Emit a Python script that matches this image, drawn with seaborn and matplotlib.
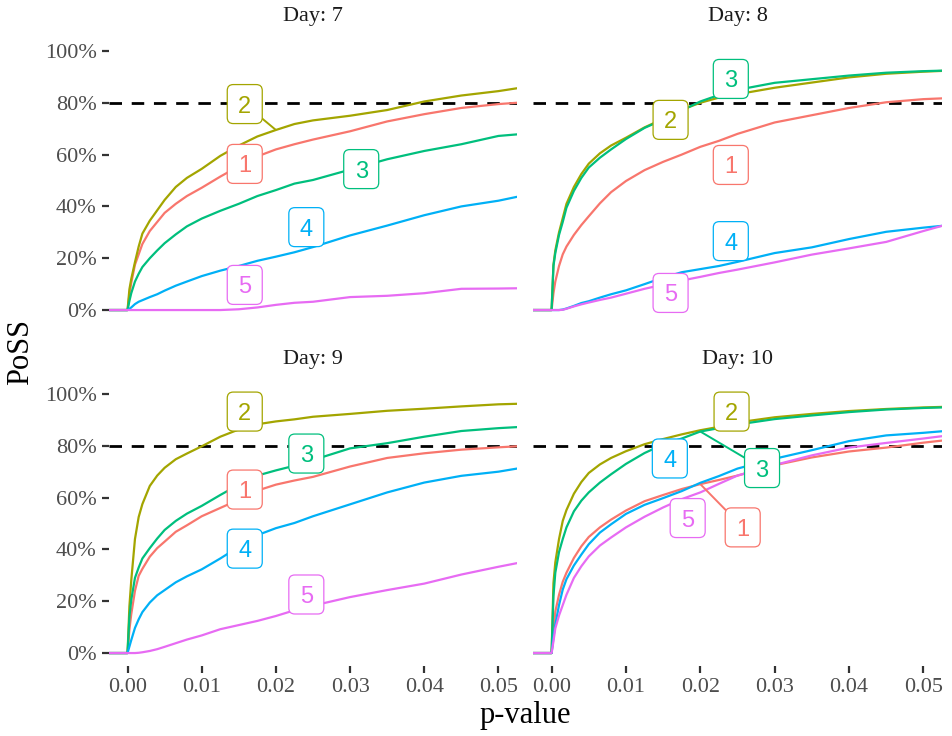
import numpy as np
import pandas as pd
import matplotlib
matplotlib.use("Agg")
import matplotlib.pyplot as plt
import seaborn as sns
from matplotlib.patches import FancyBboxPatch
from matplotlib.transforms import ScaledTranslation

# ---- data -------------------------------------------------------------
days = [7, 8, 9, 10]
groups = ["1", "2", "3", "4", "5"]
palette = {"1": "#F8766D", "2": "#A3A500", "3": "#00BF7D", "4": "#00B0F6", "5": "#E76BF3"}

p_grid = [-0.0025, 0.0, 0.00025, 0.0005, 0.001, 0.0015, 0.002, 0.003, 0.004, 0.005,
          0.0065, 0.008, 0.01, 0.0125, 0.015, 0.0175, 0.02, 0.0225, 0.025, 0.03,
          0.035, 0.04, 0.045, 0.05, 0.0525]

# PoSS (%) for each group along p_grid
day7_g1 = [0, 0, 6, 10.5, 17.5, 21.5, 25.5, 30.5, 34, 37.5, 41, 44, 47.2, 51.5, 55.5, 59.3, 62, 64, 65.8, 69, 72.8, 75.6, 78, 79.5, 80]
day7_g2 = [0, 0, 8, 12, 18.5, 24.5, 29.5, 34.5, 38.5, 42.5, 47.5, 51, 54.5, 59.5, 63.5, 67, 69.5, 71.8, 73.2, 75, 77.2, 80.5, 82.8, 84.5, 85.6]
day7_g3 = [0, 0, 3.5, 6.5, 11, 14, 16.6, 20, 23, 25.8, 29.2, 32.3, 35.3, 38.3, 41, 44, 46.3, 48.8, 50.2, 54.2, 58.2, 61.4, 64, 67.2, 67.8]
day7_g4 = [0, 0, 0.5, 1, 2.3, 3.2, 3.8, 5, 6.1, 7.5, 9.4, 11, 13.1, 15.2, 17, 19, 20.6, 22.3, 24.3, 28.8, 32.6, 36.6, 40, 42.2, 43.7]
day7_g5 = [0, 0, 0, 0, 0, 0, 0, 0, 0, 0, 0, 0, 0, 0, 0.3, 1, 2, 2.8, 3.2, 5, 5.5, 6.5, 8.2, 8.3, 8.4]

day8_g1 = [0, 0, 6.5, 11, 17, 21.5, 24.5, 29, 32.8, 36.2, 41.2, 45.5, 49.8, 54, 57.2, 60, 63, 65.3, 68, 72.4, 75.2, 78, 80.2, 81.4, 81.7]
day8_g2 = [0, 0, 17.5, 23, 30, 35.5, 41, 47.5, 52.5, 56.5, 60.5, 63.5, 66.5, 70.5, 73.8, 77.3, 80, 82, 83.3, 85.8, 87.8, 89.8, 91.2, 92, 92.3]
day8_g3 = [0, 0, 17, 22, 29, 34, 39.5, 46, 51, 55, 58.8, 62, 66, 70.3, 73.5, 77, 80.5, 83, 85, 87.7, 89.1, 90.5, 91.6, 92.2, 92.4]
day8_g4 = [0, 0, 0, 0, 0, 0.2, 0.6, 1.6, 2.7, 3.4, 4.8, 6.1, 7.6, 10, 12.5, 14.6, 15.8, 17, 18.6, 22, 24.2, 27.4, 30.2, 31.8, 32.5]
day8_g5 = [0, 0, 0, 0, 0, 0.1, 0.5, 1.4, 2.2, 2.9, 3.9, 4.8, 6.3, 8.2, 9.8, 11.4, 12.8, 14.3, 15.6, 18.4, 21.4, 23.8, 26.3, 30.5, 32.5]

day9_g1 = [0, 0, 9, 15, 24, 29.8, 32.5, 37.2, 40.5, 43, 46.8, 49.3, 52.8, 56, 59.2, 62.7, 65, 66.6, 68, 72, 75.3, 77.1, 78.5, 79.4, 79.8]
day9_g2 = [0, 0, 18, 28, 44, 52.5, 57.5, 64.5, 68.5, 71.5, 74.8, 77, 79.8, 83.5, 86.3, 88.3, 89.4, 90.2, 91.2, 92.3, 93.5, 94.3, 95.2, 96, 96.2]
day9_g3 = [0, 0, 14, 20.5, 29, 33, 36.5, 40.5, 44.2, 47.5, 51, 53.8, 56.8, 61, 65, 68.5, 70.5, 72.3, 74.5, 79, 81, 83.5, 85.7, 86.8, 87.2]
day9_g4 = [0, 0, 2.5, 5, 9.7, 13, 15.8, 19.5, 22.3, 24.3, 27.3, 29.6, 32.3, 36.5, 41, 45.5, 48.2, 50.2, 52.8, 57.4, 62, 65.8, 68.4, 70, 71.2]
day9_g5 = [0, 0, 0, 0, 0, 0.1, 0.3, 0.8, 1.5, 2.4, 3.8, 5.2, 6.8, 9.2, 10.8, 12.4, 14.3, 16.5, 18.3, 21.6, 24.3, 26.8, 30.3, 33.3, 34.7]

day10_g1 = [0, 0, 8.5, 16, 22.5, 27.5, 31, 36.7, 41.2, 44.8, 48.5, 51.5, 55, 58.6, 61, 63.3, 65.2, 66.8, 68.5, 72.5, 75.5, 77.8, 79.3, 81.2, 82]
day10_g2 = [0, 0, 27, 35, 44, 51, 55.2, 61.5, 66, 69.5, 72.8, 75.3, 77.9, 80.6, 82.6, 84.4, 86, 87.3, 89, 91, 92.3, 93.4, 94.2, 94.8, 95]
day10_g3 = [0, 0, 22, 31, 39, 44, 48.5, 54.7, 58.8, 62, 65.8, 69, 73, 77.2, 80.5, 82.8, 85.5, 86.8, 88.2, 90.3, 91.7, 93, 94, 94.6, 94.8]
day10_g4 = [0, 0, 6, 11, 18.5, 24.5, 28.5, 33.8, 38, 42, 46.5, 49.7, 53.7, 57.2, 59.8, 62.5, 65.7, 68.3, 71.2, 75, 78.3, 81.8, 84, 85, 85.6]
day10_g5 = [0, 0, 4.5, 9.5, 14.5, 18.5, 22.5, 29, 33.5, 37.3, 41.5, 44.6, 48.5, 52.6, 56.2, 59.4, 62, 65.3, 68.5, 72.6, 76.3, 79.3, 81.1, 82.8, 83.7]

curves = {
    7: [day7_g1, day7_g2, day7_g3, day7_g4, day7_g5],
    8: [day8_g1, day8_g2, day8_g3, day8_g4, day8_g5],
    9: [day9_g1, day9_g2, day9_g3, day9_g4, day9_g5],
    10: [day10_g1, day10_g2, day10_g3, day10_g4, day10_g5],
}

# group label positions (p-value, PoSS %) in order of groups 1..5
label_x = {
    7: [0.0158, 0.0158, 0.0315, 0.0241, 0.0158],
    8: [0.0241, 0.0160, 0.0241, 0.0241, 0.0160],
    9: [0.0158, 0.0158, 0.0241, 0.0158, 0.0241],
    10: [0.0257, 0.0242, 0.0283, 0.0159, 0.0183],
}
label_y = {
    7: [56.4, 79.5, 54.4, 32.0, 9.7],
    8: [56.0, 73.4, 89.2, 26.6, 6.6],
    9: [63.1, 93.2, 77.0, 40.3, 22.6],
    10: [48.5, 93.2, 71.4, 75.1, 52.1],
}
# labels that are pulled away from their curve get a leader segment
leader_labels = {7: ["2"], 8: [], 9: [], 10: ["3", "1"]}
leader_p = 0.02

target = 80
x_ticks = [0.00, 0.01, 0.02, 0.03, 0.04, 0.05]
y_ticks = [0, 20, 40, 60, 80, 100]

# ---- long table -------------------------------------------------------
rows = []
for d in days:
    for g, vals in zip(groups, curves[d]):
        for p, v in zip(p_grid, vals):
            rows.append((d, g, p, v))
df = pd.DataFrame(rows, columns=["day", "group", "p", "poss"])

# ---- figure -----------------------------------------------------------
sns.set_theme(style="white")
plt.rcParams["font.family"] = ["Liberation Serif", "DejaVu Serif"]

W, H = 952, 736
fig = plt.figure(figsize=(W / 100, H / 100), dpi=100)

col_left = [109 / W, 533 / W]
col_width = [408 / W, 409 / W]
row_bottom = [(H - 323) / H, (H - 666) / H]
row_height = 285 / H

tick_col = "#333333"
lab_col = "#4D4D4D"

for i, d in enumerate(days):
    r, c = divmod(i, 2)
    ax = fig.add_axes([col_left[c], row_bottom[r], col_width[c], row_height])
    sub = df[df["day"] == d]
    sns.lineplot(data=sub, x="p", y="poss", hue="group", hue_order=groups,
                 palette=palette, estimator=None, legend=False, linewidth=1.6,
                 ax=ax, zorder=2)
    ax.axhline(target, color="black", lw=2.0, ls=(0, (4.5, 3.5)), zorder=1.5)

    # leader segments, drawn beneath the boxes
    for g in leader_labels[d]:
        k = groups.index(g)
        py = np.interp(leader_p, p_grid, curves[d][k])
        ax.plot([leader_p, label_x[d][k]], [py, label_y[d][k]],
                color=palette[g], lw=1.4, zorder=3, solid_capstyle="butt")

    # boxed group labels
    for k, g in enumerate(groups):
        lx, ly = label_x[d][k], label_y[d][k]
        trans = fig.dpi_scale_trans + ScaledTranslation(lx, ly, ax.transData)
        box = FancyBboxPatch((-0.175, -0.195), 0.35, 0.39,
                             boxstyle="round,pad=0,rounding_size=0.06",
                             transform=trans, facecolor="white",
                             edgecolor=palette[g], lw=0.9, zorder=4)
        ax.add_artist(box)
        ax.text(lx, ly, g, ha="center", va="center_baseline", fontsize=17,
                family=["Liberation Sans", "DejaVu Sans"], color=palette[g],
                zorder=5)

    ax.set_xlim(-0.0025, 0.0525)
    ax.set_ylim(-5, 105)
    ax.set_xticks(x_ticks)
    ax.set_yticks(y_ticks)
    ax.set_xticklabels([f"{t:.2f}" for t in x_ticks])
    ax.set_yticklabels([f"{t}%" for t in y_ticks])
    ax.set_xlabel("")
    ax.set_ylabel("")
    for s in ax.spines.values():
        s.set_visible(False)
    ax.tick_params(axis="both", which="major", length=5, width=1.6,
                   color=tick_col, labelcolor=lab_col, labelsize=16, pad=4)
    ax.tick_params(bottom=(r == 1), labelbottom=(r == 1),
                   left=(c == 0), labelleft=(c == 0))
    ax.text(0.5, 1.074, f"Day: {d}", transform=ax.transAxes, ha="center",
            va="center", fontsize=16, color="#1A1A1A")

fig.text(525.5 / W, 1 - 716 / H, "p-value", ha="center", va="center",
         fontsize=22, color="black")
fig.text(21 / W, 1 - 352 / H, "PoSS", ha="center", va="center",
         rotation=90, fontsize=22, color="black")

fig.savefig("out.png", dpi=100)
